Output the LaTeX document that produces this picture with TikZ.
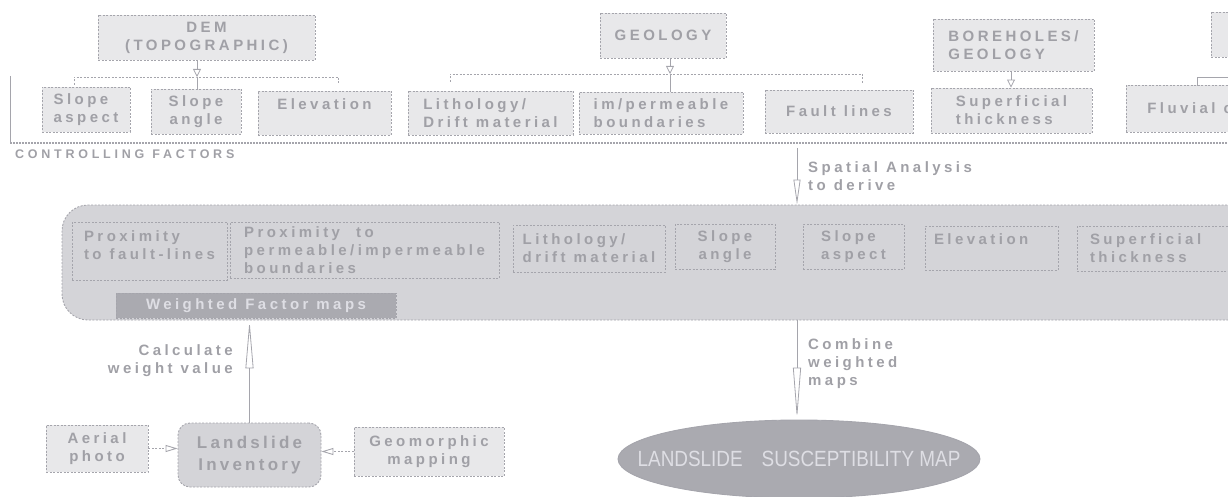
\documentclass[tikz,border=0pt]{standalone}
\usepackage{fontspec}
\setmainfont{Liberation Sans}
\font\boxfont="Liberation Sans/B:letterspace=23" at 15pt
\font\smallcapsfont="Liberation Sans/B:letterspace=30" at 12.5pt
\font\bigboxfont="Liberation Sans/B:letterspace=19" at 17pt
\usetikzlibrary{positioning,arrows.meta,shapes.geometric}
\definecolor{slideText}{RGB}{160,160,166}
\definecolor{slideLine}{RGB}{165,165,172}
\definecolor{slideFill}{RGB}{232,232,234}
\definecolor{slidePanel}{RGB}{212,212,216}
\definecolor{slideDark}{RGB}{170,170,176}
\definecolor{slideLight}{RGB}{222,222,228}
\tikzset{
  dotline/.style={dash pattern=on 2pt off 1.5pt, line width=0.9pt},
  lbl/.style={font={\boxfont\baselineskip=18pt\spaceskip=8pt plus 2pt\relax}, text=slideText, align=left, inner sep=0pt},
  srcbox/.style={lbl, draw=slideLine, dotline, fill=slideFill},
  mapbox/.style={lbl, draw=slideLine, dotline},
  conn/.style={draw=slideLine, line width=0.8pt},
}
\begin{document}
\begin{tikzpicture}[x=1pt, y=-1pt]
    \useasboundingbox (0,0) rectangle (1228,497);
    % controlling factors
    \node[srcbox, align=center, minimum width=217, minimum height=45] (dem) at (206.5,37.5) {DEM\\(TOPOGRAPHIC)};
    \node[srcbox, minimum width=88, minimum height=45] (topAspect) at (86,109.5) {Slope\\aspect};
    \node[srcbox, align=center, minimum width=90, minimum height=45] (topAngle) at (196,111.5) {Slope\\angle};
    \node[srcbox, minimum width=133, minimum height=44] (topElev) at (324.5,113) {Elevation\\ \mbox{}};
    \node[srcbox, minimum width=126, minimum height=45] (geology) at (663,35.5) {GEOLOGY};
    \node[srcbox, minimum width=165, minimum height=44] (topLith) at (490.5,113) {Lithology/\\Drift material};
    \node[srcbox, minimum width=164, minimum height=42] (topPerm) at (661,113) {im/permeable\\boundaries};
    \node[srcbox, minimum width=148, minimum height=43] (topFault) at (839,111.5) {Fault lines};
    \node[srcbox, minimum width=161, minimum height=52] (boreholes) at (1013.5,45) {BOREHOLES/\\GEOLOGY};
    \node[srcbox, minimum width=161, minimum height=45] (topSuper) at (1011.5,110.5) {Superficial\\thickness};
    \node[srcbox, minimum width=49, minimum height=45] (topRight) at (1235.5,34.5) {};
    \node[srcbox, anchor=west, inner xsep=3pt, minimum width=134, minimum height=47] (topFluvial) at (1126,108.5) {Fluvial\ cl};

    \coordinate (demFork) at (197,77);
    \coordinate (demL) at (74,85);
    \coordinate (demR) at (338,85);
    \draw[conn, -{Triangle[open, length=8pt, width=8pt]}] (dem.south -| demFork) -- (demFork);
    \draw[conn, dotline] (demL) |- (demFork) -| (demR);
    \draw[conn] (demFork) -- (demFork |- topAngle.north);

    \coordinate (geoFork) at (670,74);
    \coordinate (geoL) at (450,82);
    \coordinate (geoR) at (862,83);
    \draw[conn, -{Triangle[open, length=8pt, width=8pt]}] (geology.south -| geoFork) -- (geoFork);
    \draw[conn, dotline] (geoL) |- (geoFork) -| (geoR);
    \draw[conn] (geoFork) -- (geoFork |- topPerm.north);

    \draw[conn, -{Triangle[open, length=8pt, width=8pt]}] (boreholes.south -| 1011,0) -- (topSuper.north -| 1011,0);

    \coordinate (fluvL) at (1197,86);
    \coordinate (fluvR) at (1240,77);
    \draw[conn] (fluvL) |- (fluvR);

    \draw[conn] (10,76) -- (10,143);
    \draw[slideLine, line width=2pt, dash pattern=on 2pt off 1pt] (10,143) -- (1228,143);
    \node[font={\smallcapsfont\spaceskip=8pt\relax}, text=slideText, inner sep=0pt, anchor=west] (ctrlLbl) at (15,154) {CONTROLLING FACTORS};

    % weighted factor maps
    \node[draw=slideLine, dotline, fill=slidePanel, rounded corners=26, minimum width=1198, minimum height=115] (panel) at (661,262.5) {};
    \node[mapbox, minimum width=155, minimum height=58] (pFault) at (149.5,251) {Proximity\\to fault-lines\\[-6pt]\mbox{}};
    \node[mapbox, minimum width=269, minimum height=56] (pPerm) at (364.5,250) {Proximity\ \ to\\permeable/impermeable\\boundaries};
    \node[mapbox, minimum width=152, minimum height=47] (pLith) at (589,248.5) {Lithology/\\drift material};
    \node[mapbox, align=center, minimum width=100, minimum height=45] (pAngle) at (725,246.5) {Slope\\angle};
    \node[mapbox, minimum width=101, minimum height=45] (pAspect) at (853.5,246.5) {Slope\\aspect};
    \node[mapbox, text width=115, minimum width=133, minimum height=44] (pElev) at (991.5,248) {Elevation\\ \mbox{}};
    \node[mapbox, text width=137, minimum width=163, minimum height=45] (pSuper) at (1158.5,248.5) {Superficial\\thickness};
    \node[mapbox, align=center, fill=slideDark, text=slideLight, minimum width=280, minimum height=25] (weighted) at (256,305.5) {Weighted Factor maps};

    \coordinate (spatialTop) at (797,148);
    \draw[conn, -{Triangle[open, length=25pt, width=7pt]}] (spatialTop) -- (spatialTop |- panel.north);
    \node[lbl, anchor=west] (spatialLbl) at (808,176) {Spatial Analysis\\to derive};

    % inventory and result
    \node[srcbox, align=center, minimum width=102, minimum height=47] (aerial) at (97,448.5) {Aerial\\photo};
    \node[lbl, align=center, draw=slideLine, dotline, fill=slidePanel, rounded corners=12, font={\bigboxfont\baselineskip=22pt}, minimum width=143, minimum height=64] (inventory) at (249.5,455) {Landslide\\Inventory};
    \node[srcbox, align=center, minimum width=150, minimum height=49] (geomorph) at (429,451.5) {Geomorphic\\mapping};
    \draw[conn, dotline, -{Triangle[open, length=12pt, width=7pt]}] (aerial.east) -- (aerial.east -| inventory.west);
    \draw[conn, dotline, -{Triangle[open, length=12pt, width=7pt]}] (geomorph.west) -- (geomorph.west -| inventory.east);

    \draw[conn, -{Triangle[open, length=48pt, width=8pt]}] (inventory.north) -- (inventory.north |- panel.south);
    \node[lbl, align=right, anchor=east] (calcLbl) at (233,361) {Calculate\\weight value};

    \node[ellipse, draw=slideLine, line width=0.9pt, fill=slideDark, text=slideLight, font=\fontsize{22}{26}\selectfont, minimum width=362, minimum height=78, inner sep=0pt] (susMap) at (799,459) {\makebox[0pt]{\scalebox{0.86}[1]{LANDSLIDE\quad SUSCEPTIBILITY MAP}}};
    \draw[conn, -{Triangle[open, length=52pt, width=8pt]}] (panel.south -| 797,0) -- (susMap.north -| 797,0);
    \node[lbl, anchor=west] (combineLbl) at (808,364) {Combine\\weighted\\maps};
\end{tikzpicture}
\end{document}
